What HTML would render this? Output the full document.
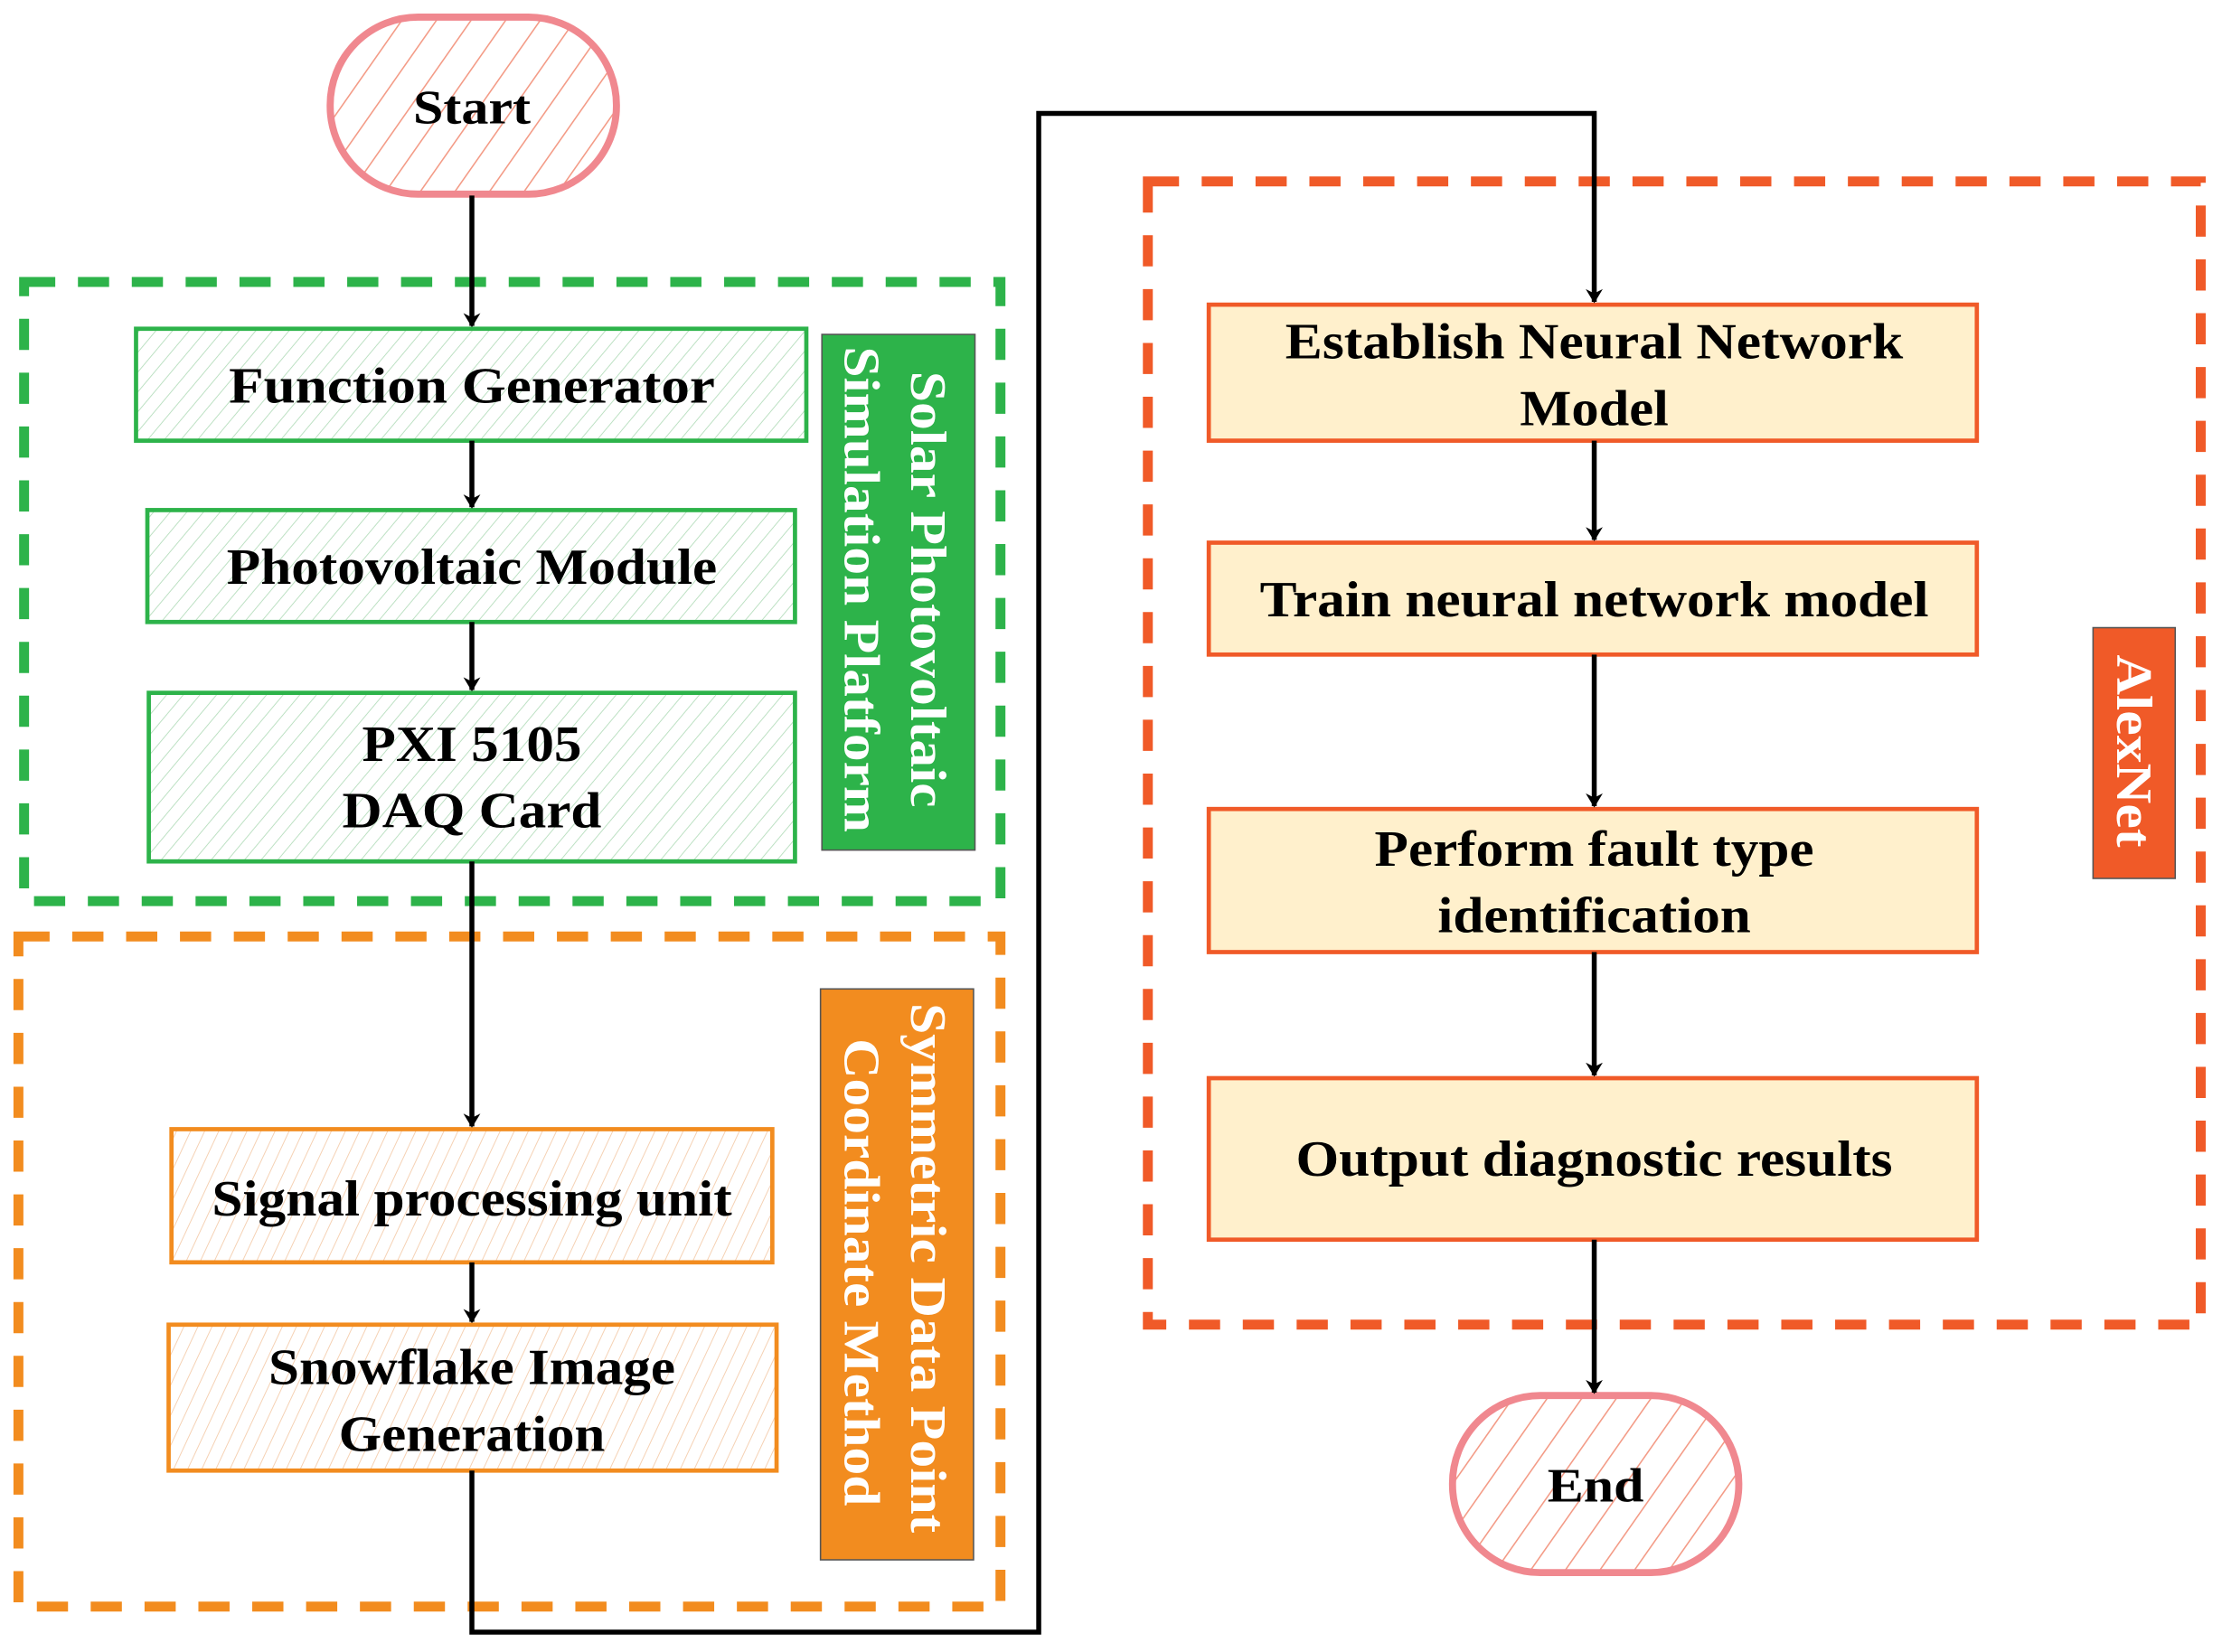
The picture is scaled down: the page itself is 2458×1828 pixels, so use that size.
<!DOCTYPE html>
<html><head><meta charset="utf-8"><style>html,body{margin:0;padding:0;background:#fff}svg{display:block}</style></head><body>
<svg width="2458" height="1828" viewBox="0 0 1568 1166" xmlns="http://www.w3.org/2000/svg">
<defs>
<pattern id="hg" width="9" height="9" patternUnits="userSpaceOnUse" patternTransform="rotate(40)"><line x1="0" y1="0" x2="0" y2="9" stroke="#b9dfc0" stroke-width="1.2"/></pattern>
<pattern id="ho" width="9" height="9" patternUnits="userSpaceOnUse" patternTransform="rotate(25)"><line x1="0" y1="0" x2="0" y2="9" stroke="#f5cfb0" stroke-width="1.2"/></pattern>
<pattern id="hp" width="20" height="20" patternUnits="userSpaceOnUse" patternTransform="rotate(35)"><line x1="0" y1="0" x2="0" y2="20" stroke="#f39a85" stroke-width="2"/></pattern>
<marker id="ar" markerWidth="10" markerHeight="12" refX="9" refY="6" orient="auto" markerUnits="userSpaceOnUse"><path d="M0,0 L10,6 L0,12 L3,6 Z" fill="#000"/></marker>
</defs>
<g font-family="Liberation Serif, serif" font-weight="bold" text-anchor="middle" fill="#000">
<!-- dashed groups -->
<rect x="17" y="199" width="689" height="437" fill="none" stroke="#2db34a" stroke-width="7" stroke-dasharray="22 16"/>
<rect x="13" y="661" width="693" height="473" fill="none" stroke="#f28c1f" stroke-width="7" stroke-dasharray="22 16"/>
<rect x="810" y="128" width="743" height="807" fill="none" stroke="#f05a28" stroke-width="7" stroke-dasharray="22 16"/>

<!-- Start -->
<rect x="233" y="12" width="202" height="125" rx="62" fill="url(#hp)" stroke="#f0888f" stroke-width="5"/>
<text x="333" y="87" font-size="34" textLength="83" lengthAdjust="spacingAndGlyphs">Start</text>
<!-- End -->
<rect x="1025" y="985" width="202" height="125" rx="62" fill="url(#hp)" stroke="#f0888f" stroke-width="5"/>
<text x="1126" y="1060" font-size="34" textLength="68" lengthAdjust="spacingAndGlyphs">End</text>

<!-- green boxes -->
<rect x="96" y="232" width="473" height="79" fill="url(#hg)" stroke="#2db34a" stroke-width="3"/>
<text x="333" y="284" font-size="36" textLength="343" lengthAdjust="spacingAndGlyphs">Function  Generator</text>
<rect x="104" y="360" width="457" height="79" fill="url(#hg)" stroke="#2db34a" stroke-width="3"/>
<text x="333" y="412" font-size="36" textLength="346" lengthAdjust="spacingAndGlyphs">Photovoltaic Module</text>
<rect x="105" y="489" width="456" height="119" fill="url(#hg)" stroke="#2db34a" stroke-width="3"/>
<text x="333" y="537" font-size="36" textLength="155" lengthAdjust="spacingAndGlyphs">PXI 5105</text>
<text x="333" y="584" font-size="36" textLength="183" lengthAdjust="spacingAndGlyphs">DAQ Card</text>

<rect x="580" y="236" width="108" height="364" fill="#2db34a" stroke="#555" stroke-width="1"/>
<text transform="translate(655,416) rotate(90)" font-size="36" fill="#fff" y="12" textLength="308" lengthAdjust="spacingAndGlyphs">Solar Photovoltaic</text>
<text transform="translate(608,416) rotate(90)" font-size="36" fill="#fff" y="12" textLength="343" lengthAdjust="spacingAndGlyphs">Simulation Platform</text>

<!-- orange boxes -->
<rect x="121" y="797" width="424" height="94" fill="url(#ho)" stroke="#f28c1f" stroke-width="3"/>
<text x="333" y="858" font-size="36" textLength="367" lengthAdjust="spacingAndGlyphs">Signal processing unit</text>
<rect x="119" y="935" width="429" height="103" fill="url(#ho)" stroke="#f28c1f" stroke-width="3"/>
<text x="333" y="977" font-size="36" textLength="287" lengthAdjust="spacingAndGlyphs">Snowflake Image</text>
<text x="333" y="1024" font-size="36" textLength="188" lengthAdjust="spacingAndGlyphs">Generation</text>

<rect x="579" y="698" width="108" height="403" fill="#f28c1f" stroke="#555" stroke-width="1"/>
<text transform="translate(655,895) rotate(90)" font-size="36" fill="#fff" y="12" textLength="374" lengthAdjust="spacingAndGlyphs">Symmetric Data Point</text>
<text transform="translate(608,898) rotate(90)" font-size="36" fill="#fff" y="12" textLength="330" lengthAdjust="spacingAndGlyphs">Coordinate Method</text>

<!-- right boxes -->
<rect x="853" y="215" width="542" height="96" fill="#fff0cc" stroke="#f05a28" stroke-width="3"/>
<text x="1125" y="253" font-size="36" textLength="436" lengthAdjust="spacingAndGlyphs">Establish Neural Network</text>
<text x="1125" y="300" font-size="36" textLength="105" lengthAdjust="spacingAndGlyphs">Model</text>
<rect x="853" y="383" width="542" height="79" fill="#fff0cc" stroke="#f05a28" stroke-width="3"/>
<text x="1125" y="435" font-size="36" textLength="472" lengthAdjust="spacingAndGlyphs">Train neural network model</text>
<rect x="853" y="571" width="542" height="101" fill="#fff0cc" stroke="#f05a28" stroke-width="3"/>
<text x="1125" y="611" font-size="36" textLength="310" lengthAdjust="spacingAndGlyphs">Perform fault type</text>
<text x="1125" y="658" font-size="36" textLength="221" lengthAdjust="spacingAndGlyphs">identification</text>
<rect x="853" y="761" width="542" height="114" fill="#fff0cc" stroke="#f05a28" stroke-width="3"/>
<text x="1125" y="830" font-size="36" textLength="421" lengthAdjust="spacingAndGlyphs">Output diagnostic results</text>

<rect x="1477" y="443" width="58" height="177" fill="#f05a28" stroke="#555" stroke-width="1"/>
<text transform="translate(1506,530) rotate(90)" font-size="36" fill="#fff" y="12" textLength="136" lengthAdjust="spacingAndGlyphs">AlexNet</text>

<!-- connectors -->
<g stroke="#000" stroke-width="3.5" fill="none" marker-end="url(#ar)">
<line x1="333" y1="138" x2="333" y2="230"/>
<line x1="333" y1="311" x2="333" y2="358"/>
<line x1="333" y1="439" x2="333" y2="487"/>
<line x1="333" y1="608" x2="333" y2="795"/>
<line x1="333" y1="891" x2="333" y2="933"/>
<polyline points="333,1038 333,1152 733,1152 733,80 1125,80 1125,213"/>
<line x1="1125" y1="311" x2="1125" y2="381"/>
<line x1="1125" y1="462" x2="1125" y2="569"/>
<line x1="1125" y1="672" x2="1125" y2="759"/>
<line x1="1125" y1="875" x2="1125" y2="983"/>
</g>
</g>
</svg>
</body></html>
